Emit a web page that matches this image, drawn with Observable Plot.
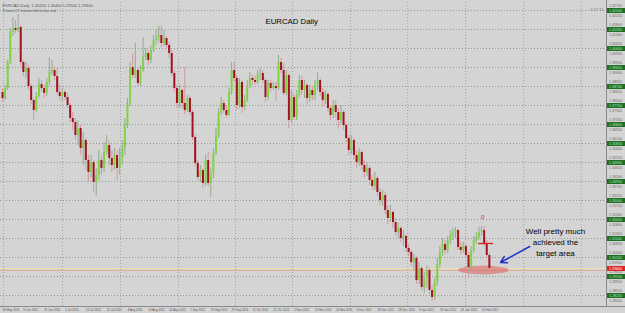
<!DOCTYPE html>
<html><head><meta charset="utf-8">
<script src="https://cdn.jsdelivr.net/npm/d3@7"></script>
<script src="https://cdn.jsdelivr.net/npm/@observablehq/plot@0.6"></script>
<style>
html,body{margin:0;padding:0;background:#d4d4d4;}
#chart{width:625px;height:313px;overflow:hidden;}
</style></head><body><div id="chart"></div>
<script>
// ---- data (EURCAD daily, 30 May 2011 .. 15 Feb 2012) ----
const firstOpen = 1.3840;
const closes = [
1.3810,1.3860,1.3990,1.4140,1.4160,1.4150,1.4165,1.3990,1.3940,1.3960,
1.3870,1.3800,1.3750,1.3820,1.3880,1.3860,1.3835,1.3890,1.3940,1.3950,
1.3920,1.3840,1.3820,1.3840,1.3815,1.3775,1.3710,1.3690,1.3625,1.3660,
1.3560,1.3600,1.3500,1.3440,1.3490,1.3390,1.3425,1.3500,1.3460,1.3540,
1.3575,1.3510,1.3475,1.3525,1.3460,1.3510,1.3560,1.3680,1.3785,1.3965,
1.3925,1.3950,1.3885,1.3950,1.4015,1.4035,1.4000,1.4050,1.4100,1.4110,
1.4125,1.4085,1.4110,1.4075,1.4035,1.3935,1.3860,1.3785,1.3850,1.3785,
1.3750,1.3810,1.3740,1.3615,1.3485,1.3415,1.3450,1.3385,1.3500,1.3385,
1.3435,1.3535,1.3625,1.3735,1.3785,1.3750,1.3725,1.3840,1.3950,1.3910,
1.3775,1.3890,1.3765,1.3800,1.3865,1.3910,1.3900,1.3890,1.3930,1.3935,
1.3900,1.3815,1.3885,1.3860,1.3870,1.3860,1.3990,1.3950,1.3835,1.3925,
1.3700,1.3815,1.3715,1.3825,1.3900,1.3850,1.3875,1.3810,1.3850,1.3825,
1.3875,1.3900,1.3840,1.3800,1.3830,1.3760,1.3725,1.3775,1.3740,1.3700,
1.3740,1.3675,1.3610,1.3550,1.3600,1.3525,1.3490,1.3540,1.3475,1.3440,
1.3460,1.3400,1.3370,1.3410,1.3340,1.3300,1.3325,1.3250,1.3210,1.3240,
1.3190,1.3140,1.3160,1.3110,1.3120,1.3060,1.3040,1.2990,1.3010,1.2900,
1.2960,1.2865,1.2910,1.2950,1.2850,1.2815,1.2890,1.2980,1.3040,1.3080,
1.3050,1.3100,1.3125,1.3135,1.3150,1.3065,1.3050,1.3070,1.3025,1.2965,
1.3050,1.3100,1.3115,1.3140,1.3150,1.3085,1.3025,1.2960];
const highs = [
1.3860,1.3875,1.4000,1.4160,1.4215,1.4200,1.4230,1.4175,1.4000,1.3990,
1.3975,1.3880,1.3810,1.3840,1.3910,1.3900,1.3875,1.3910,1.4015,1.4000,
1.3970,1.3960,1.3875,1.3860,1.3850,1.3835,1.3785,1.3740,1.3710,1.3700,
1.3675,1.3640,1.3610,1.3525,1.3525,1.3500,1.3460,1.3550,1.3525,1.3590,
1.3625,1.3600,1.3550,1.3560,1.3550,1.3560,1.3600,1.3710,1.3810,1.3990,
1.4035,1.4085,1.3960,1.3975,1.4115,1.4060,1.4050,1.4075,1.4125,1.4150,
1.4170,1.4170,1.4150,1.4120,1.4090,1.4050,1.3950,1.3875,1.3875,1.3860,
1.3965,1.3825,1.3820,1.3750,1.3625,1.3500,1.3475,1.3460,1.3525,1.3540,
1.3460,1.3560,1.3660,1.3760,1.3815,1.3800,1.3775,1.3860,1.3990,1.3990,
1.3925,1.3910,1.3900,1.3825,1.3900,1.3940,1.3925,1.3920,1.3950,1.3960,
1.3950,1.3910,1.3900,1.3900,1.3890,1.3890,1.4025,1.4010,1.3985,1.3950,
1.3935,1.3850,1.3835,1.3850,1.3925,1.3920,1.3900,1.3885,1.3875,1.3870,
1.3900,1.3940,1.3910,1.3860,1.3850,1.3840,1.3775,1.3800,1.3800,1.3760,
1.3775,1.3750,1.3690,1.3625,1.3625,1.3610,1.3550,1.3560,1.3550,1.3500,
1.3490,1.3470,1.3425,1.3440,1.3420,1.3360,1.3350,1.3340,1.3275,1.3275,
1.3250,1.3210,1.3190,1.3170,1.3150,1.3130,1.3080,1.3050,1.3030,1.3020,
1.2990,1.2970,1.2940,1.2975,1.2960,1.2875,1.2910,1.3010,1.3070,1.3110,
1.3100,1.3120,1.3150,1.3160,1.3165,1.3155,1.3090,1.3090,1.3080,1.3040,
1.3070,1.3120,1.3140,1.3165,1.3170,1.3170,1.3100,1.3035];
const lows = [
1.3790,1.3800,1.3850,1.3980,1.4120,1.4135,1.4140,1.3970,1.3920,1.3910,
1.3850,1.3780,1.3700,1.3740,1.3810,1.3840,1.3810,1.3820,1.3875,1.3925,
1.3900,1.3825,1.3800,1.3795,1.3800,1.3760,1.3690,1.3650,1.3600,1.3575,
1.3525,1.3475,1.3450,1.3390,1.3410,1.3340,1.3320,1.3400,1.3425,1.3440,
1.3525,1.3475,1.3440,1.3450,1.3400,1.3425,1.3475,1.3525,1.3660,1.3770,
1.3910,1.3910,1.3870,1.3870,1.3940,1.4000,1.3975,1.3985,1.4040,1.4075,
1.4090,1.4065,1.4070,1.4060,1.4010,1.3920,1.3840,1.3760,1.3760,1.3760,
1.3730,1.3740,1.3725,1.3600,1.3470,1.3400,1.3390,1.3360,1.3370,1.3370,
1.3315,1.3410,1.3525,1.3610,1.3725,1.3735,1.3710,1.3720,1.3825,1.3890,
1.3750,1.3760,1.3735,1.3750,1.3790,1.3860,1.3875,1.3875,1.3880,1.3900,
1.3885,1.3790,1.3800,1.3840,1.3850,1.3795,1.3850,1.3935,1.3825,1.3825,
1.3660,1.3690,1.3700,1.3700,1.3810,1.3825,1.3810,1.3775,1.3790,1.3800,
1.3800,1.3850,1.3820,1.3770,1.3780,1.3740,1.3700,1.3710,1.3710,1.3660,
1.3680,1.3650,1.3590,1.3525,1.3530,1.3500,1.3460,1.3470,1.3450,1.3410,
1.3420,1.3375,1.3350,1.3350,1.3320,1.3275,1.3270,1.3230,1.3180,1.3190,
1.3160,1.3120,1.3110,1.3090,1.3070,1.3040,1.3020,1.2970,1.2950,1.2880,
1.2880,1.2850,1.2835,1.2860,1.2830,1.2795,1.2800,1.2870,1.2960,1.3020,
1.3030,1.3035,1.3080,1.3100,1.3110,1.3050,1.3030,1.3035,1.3010,1.2910,
1.2950,1.3035,1.3080,1.3100,1.3120,1.3070,1.3010,1.2950];

const dateLabels = ["30 May 2011","9 Jun 2011","21 Jun 2011","1 Jul 2011","13 Jul 2011","25 Jul 2011",
"4 Aug 2011","16 Aug 2011","26 Aug 2011","7 Sep 2011","19 Sep 2011","29 Sep 2011","11 Oct 2011",
"21 Oct 2011","2 Nov 2011","14 Nov 2011","24 Nov 2011","6 Dec 2011","16 Dec 2011","28 Dec 2011",
"9 Jan 2012","19 Jan 2012","31 Jan 2012","10 Feb 2012"];
const dateLabelBars = [0,8,16,24,32,40,48,56,64,72,80,88,96,104,112,120,128,136,144,152,160,168,176,184];
const gridPrices = [1.4250,1.4155,1.4060,1.3965,1.3870,1.3775,1.3680,1.3585,1.3490,1.3395,1.3300,1.3205,1.3110,1.3015,1.2920,1.2825];
const gridBars = [0.4,23,45.3,67.6,89.5,111.4,133.7,155.6,177.9,200.2,222.3];
const bidPrice = 1.2960;
const targetLevel = 1.2950;
const titleText = "EURCAD Daily";
const header1 = "EURCAD,Daily  1.30250 1.30400 1.29500 1.29600";
const header2 = "3 hours 57 minutes left to bar end";
const timerText = "0:27:11";
const noteText = "Well pretty much\nachieved the\ntarget area";
const note = {bar: 212.4, price: 1.3095};
const arrow = {bar1: 202.5, price1: 1.3070, bar2: 191.3, price2: 1.2990};
const zone = {bar1: 175.2, bar2: 194.6, price1: 1.2972, price2: 1.2928};
const marker = {bar1: 182.9, bar2: 188.6, price: 1.3085, labelBar: 184.4, labelPrice: 1.3215, label: "0"};

// ---- build ----
const xDomain = [-0.77, 232];
const yDomain = [1.277, 1.430];
const axisX1 = 232.35, axisX2 = 239.4;
const bars = closes.map((c, i) => ({i, open: i === 0 ? firstOpen : closes[i - 1], close: c, high: highs[i], low: lows[i]}));
const isUp = d => d.close >= d.open;
const dates = dateLabels.map((t, k) => ({t, bar: dateLabelBars[k]}));
const sideLabels = gridPrices.flatMap(g => [g + 0.0025, g - 0.0025]);

const chart = Plot.plot({
  width: 625, height: 313,
  marginTop: 0, marginLeft: 0, marginRight: 19, marginBottom: 7,
  x: {domain: xDomain, axis: null},
  y: {domain: yDomain, axis: null},
  style: {background: "#d4d4d4", fontFamily: "Liberation Sans, Arial, sans-serif", overflow: "visible"},
  marks: [
    Plot.ruleY(gridPrices, {x1: xDomain[0], x2: xDomain[1], stroke: "#8e9c8e", strokeDasharray: "1,2", strokeWidth: 1}),
    Plot.ruleX(gridBars, {y1: yDomain[0], y2: yDomain[1], stroke: "#a4a4a4", strokeDasharray: "1,2", strokeWidth: 1}),
    Plot.ruleY([bidPrice], {x1: xDomain[0], x2: xDomain[1], stroke: "#ece0b0", strokeWidth: 1}),
    Plot.ruleY([targetLevel], {x1: xDomain[0], x2: xDomain[1], stroke: "#e4b09c", strokeWidth: 1.2}),
    Plot.rect([zone], {x1: "bar1", x2: "bar2", y1: "price1", y2: "price2", fill: "#dc6868", fillOpacity: 0.6, rx: 26, ry: 5}),
    Plot.ruleX(bars, {x: "i", y1: "low", y2: "high", stroke: d => isUp(d) ? "#93ab8c" : "#d09a9e", strokeWidth: 1}),
    Plot.ruleX(bars, {x: "i", y1: "open", y2: "close", stroke: d => isUp(d) ? "#80d444" : "#a3121f", strokeWidth: 2}),
    Plot.ruleY([marker], {y: "price", x1: "bar1", x2: "bar2", stroke: "#d42020", strokeWidth: 1.3}),
    Plot.text([marker], {x: "labelBar", y: "labelPrice", text: "label", fill: "#d43030", fontSize: 6}),
    Plot.arrow([arrow], {x1: "bar1", y1: "price1", x2: "bar2", y2: "price2", stroke: "#1f33c8", strokeWidth: 1.5, headLength: 7, bend: 0}),
    Plot.text([noteText], {x: note.bar, y: note.price, text: d => d, fontSize: 8, lineHeight: 1.35, fill: "#000"}),
    Plot.text([titleText], {frameAnchor: "top-left", dx: 265, dy: 18, fontSize: 7.8, fill: "#000"}),
    Plot.text([header1], {frameAnchor: "top-left", dx: 2, dy: 3.5, textAnchor: "start", fontSize: 4, fill: "#555"}),
    Plot.text([header2], {frameAnchor: "top-left", dx: 2, dy: 8.5, textAnchor: "start", fontSize: 3.6, fill: "#555"}),
    Plot.text([timerText], {frameAnchor: "top-right", dx: -3, dy: 8, textAnchor: "end", fontSize: 4, fill: "#777"}),
    // axes frame
    Plot.ruleY([yDomain[0]], {x1: xDomain[0], x2: axisX2, stroke: "#8a8a8a"}),
    Plot.ruleX([xDomain[1]], {y1: yDomain[0], y2: yDomain[1], stroke: "#8a8a8a"}),
    // right price scale
    Plot.text(sideLabels, {x: axisX1, y: d => d, dx: 1.5, text: d => d.toFixed(5), textAnchor: "start", fontSize: 3.6, fill: "#6a6a6a"}),
    Plot.ruleY(gridPrices, {x1: axisX1, x2: axisX2, stroke: "#1e6e22", strokeWidth: 5}),
    Plot.text(gridPrices, {x: axisX1, y: d => d, dx: 1.5, text: d => d.toFixed(5), textAnchor: "start", fontSize: 3.6, fill: "#bfe6bf"}),
    Plot.ruleY([bidPrice], {x1: axisX1, x2: axisX2, stroke: "#e02424", strokeWidth: 5}),
    Plot.text([bidPrice], {x: axisX1, y: d => d, dx: 1.5, text: d => d.toFixed(5), textAnchor: "start", fontSize: 3.6, fill: "#fff"}),
    // bottom date scale
    Plot.text(dates, {x: "bar", y: yDomain[0], dy: 3.6, text: "t", textAnchor: "start", fontSize: 3, fill: "#555"})
  ]
});
document.getElementById("chart").appendChild(chart);
</script></body></html>
